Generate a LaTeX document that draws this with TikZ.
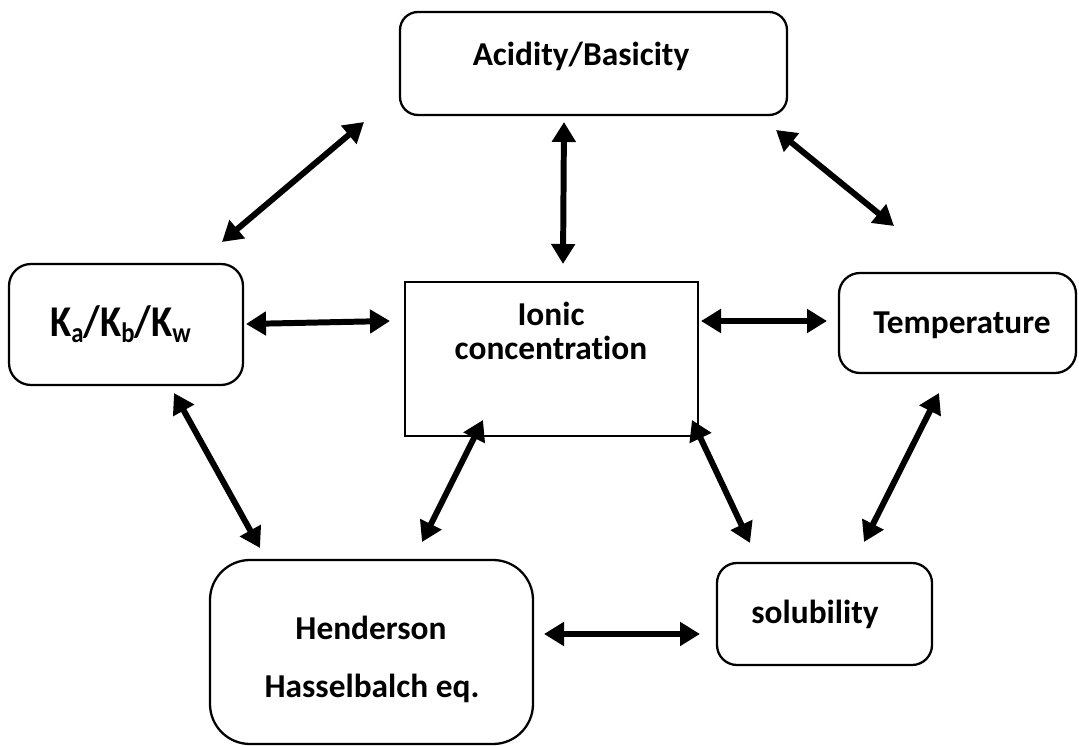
\documentclass[tikz,border=0pt]{standalone}
\usepackage{fontspec}
\setmainfont{Carlito}[Ligatures={NoCommon}]
\usetikzlibrary{arrows.meta,fit}
\newcommand{\lowsub}[1]{\raisebox{-3.4pt}{\fontsize{16}{19}\selectfont #1}}
\begin{document}
\begin{tikzpicture}[x=0.02cm,y=-0.02cm,
  box/.style={draw, line width=1.3pt, inner sep=0pt, rounded corners=#1},
  box/.default=0.4cm,
  rect/.style={draw, line width=1.3pt, inner sep=0pt},
  lbl/.style={font=\fontsize{19}{23}\selectfont\bfseries, anchor=base, inner sep=0pt},
  big/.style={font=\fontsize{25}{30}\selectfont\bfseries, anchor=base west, inner sep=0pt},
  link/.style={line width=3.4pt, {Triangle[length=0.4cm,width=0.46cm]}-{Triangle[length=0.4cm,width=0.46cm]}}]
  \useasboundingbox (0,0) rectangle (1079,746);

  % boxes
  \node[box=0.36cm, fit={(400,12) (787,115)}] (acid) {};
  \node[box=0.44cm, fit={(9,264) (243,385)}] (kab) {};
  \node[rect, fit={(405,282) (698,436)}] (ionic) {};
  \node[box=0.42cm, fit={(839,273) (1076,373)}] (temp) {};
  \node[box=0.8cm, fit={(210,560) (533,744)}] (hh) {};
  \node[box=0.4cm, fit={(717,563) (932,665)}] (sol) {};

  % labels
  \node[lbl] (acidT) at (581,66) {Acidity/Basicity};
  \node[big] (kabT) at (50,337) {\scalebox{0.88}[1]{K\lowsub{a}/K\lowsub{b}/K\lowsub{w}}};
  \node[lbl] (ionT1) at (551,326) {Ionic};
  \node[lbl] (ionT2) at (551,360) {concentration};
  \node[lbl] (tempT) at (962,334) {Temperature};
  \node[lbl] (hhT1) at (371,639) {Henderson};
  \node[lbl] (hhT2) at (372,697) {Hasselbalch eq.};
  \node[lbl] (solT) at (815,623) {solubility};

  % connector ends
  \coordinate (a1) at (364,122);  \coordinate (k1) at (222,242);
  \coordinate (a2) at (564,122);  \coordinate (i1) at (563,264);
  \coordinate (a3) at (776,130);  \coordinate (t1) at (894,226);
  \coordinate (k2) at (246,324);  \coordinate (i2) at (390,321);
  \coordinate (i3) at (701,321);  \coordinate (t2) at (827,321);
  \coordinate (k3) at (174,393);  \coordinate (h1) at (260,548);
  \coordinate (i4) at (483,420);  \coordinate (h2) at (422,542);
  \coordinate (i5) at (692,420);  \coordinate (s1) at (750,543);
  \coordinate (t3) at (939,393);  \coordinate (s2) at (864,542);
  \coordinate (h3) at (544,634);  \coordinate (s3) at (700,634);

  % connectors
  \draw[link] (a1) -- (k1);
  \draw[link] (a2) -- (i1);
  \draw[link] (a3) -- (t1);
  \draw[link] (k2) -- (i2);
  \draw[link] (i3) -- (t2);
  \draw[link] (k3) -- (h1);
  \draw[link] (i4) -- (h2);
  \draw[link] (i5) -- (s1);
  \draw[link] (t3) -- (s2);
  \draw[link] (h3) -- (s3);
\end{tikzpicture}
\end{document}
